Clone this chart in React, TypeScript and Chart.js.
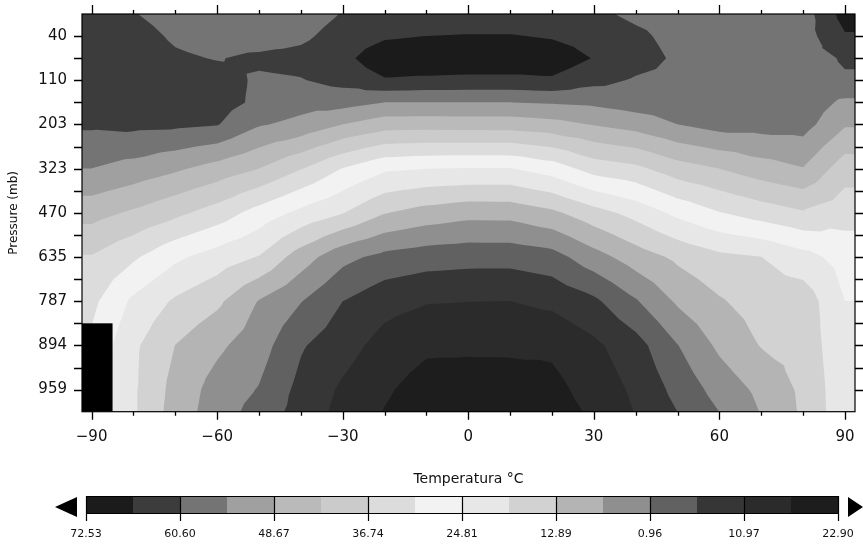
import React, { useEffect, useRef } from 'react';
import { Chart, registerables } from 'chart.js';

Chart.register(...registerables);

// ---------- data ----------
// Latitude columns of the temperature grid (degrees)
const LATITUDES = [-90, -80, -70, -60, -50, -40, -30, -20, -10, 0, 10, 20, 30, 40, 50, 60, 70, 80, 90];
// Vertical position of each grid row, in pressure-axis index units (0 = 40 mb ... 8 = 959 mb)
const LEVEL_ROWS = [-0.5, 0, 0.5, 1, 1.5, 2, 3, 4, 5, 6, 7, 8, 8.5];
// Pressure axis labels (mb)
const PRESSURE_LABELS = ['40', '110', '203', '323', '470', '635', '787', '894', '959'];
// Labelled latitude ticks
const X_TICKS = [-90, -60, -30, 0, 30, 60, 90];

// Temperature (°C), one row per LEVEL_ROWS entry, one column per LATITUDES entry
const TEMP_R00 = [-63.6, -60.9, -58.2, -57.0, -56.4, -57.6, -60.9, -63.0, -63.3, -63.0, -63.0, -62.4, -61.8, -59.4, -58.2, -58.2, -58.2, -57.6, -69.0];
const TEMP_R01 = [-63.6, -63.0, -59.7, -58.2, -57.6, -59.4, -63.0, -65.7, -66.6, -66.9, -66.9, -66.0, -64.2, -61.8, -58.8, -58.5, -58.2, -57.9, -66.0];
const TEMP_R02 = [-63.6, -64.2, -61.5, -60.3, -61.8, -62.4, -64.8, -70.7, -71.0, -70.7, -70.7, -70.1, -66.3, -63.0, -59.7, -58.8, -58.5, -58.2, -61.2];
const TEMP_R03 = [-63.6, -64.2, -63.6, -63.0, -59.7, -60.3, -62.4, -66.0, -65.4, -65.1, -65.1, -65.7, -62.4, -60.0, -59.4, -58.8, -58.5, -58.2, -60.0];
const TEMP_R04 = [-63.0, -63.6, -63.9, -63.0, -59.4, -57.0, -57.0, -54.6, -54.6, -54.6, -54.6, -55.2, -55.8, -57.6, -58.2, -58.5, -58.5, -58.2, -53.4];
const TEMP_R05 = [-61.5, -62.1, -61.8, -60.9, -55.2, -52.9, -48.6, -45.4, -45.1, -45.3, -45.4, -46.6, -49.0, -51.1, -54.6, -57.0, -57.0, -57.0, -49.3];
const TEMP_R06 = [-54.6, -52.4, -49.6, -46.3, -42.7, -37.0, -30.5, -25.7, -24.8, -24.5, -24.5, -27.5, -33.2, -35.3, -40.0, -42.7, -46.0, -48.4, -39.4];
const TEMP_R07 = [-44.9, -41.8, -38.2, -34.1, -28.4, -23.3, -19.1, -13.2, -10.5, -8.9, -9.0, -11.7, -16.5, -20.9, -26.3, -30.5, -33.5, -36.1, -33.2];
const TEMP_R08 = [-36.3, -31.7, -26.0, -22.1, -18.5, -9.9, -2.7, 0.8, 2.3, 2.9, 2.9, 1.4, -4.5, -9.9, -14.1, -17.4, -18.8, -22.7, -27.2];
const TEMP_R09 = [-32.3, -23.6, -18.0, -14.1, -6.6, -1.2, 5.0, 8.9, 10.6, 10.9, 11.0, 9.6, 6.2, -0.4, -7.8, -12.3, -15.6, -15.3, -24.8];
const TEMP_R10 = [-29.6, -20.0, -12.8, -8.1, -3.6, 4.4, 8.6, 13.1, 15.8, 15.8, 15.8, 15.8, 12.2, 7.4, -0.8, -8.1, -13.2, -15.0, -23.6];
const TEMP_R11 = [-29.0, -19.7, -10.8, -4.5, -0.6, 6.8, 11.9, 16.1, 19.6, 20.2, 19.9, 18.7, 14.6, 9.8, 3.2, -3.3, -8.4, -14.1, -23.0];
const TEMP_R12 = [-29.0, -19.7, -10.2, -3.9, 1.4, 7.4, 12.8, 17.2, 20.5, 21.7, 21.4, 19.3, 16.1, 10.7, 5.0, -1.0, -7.2, -13.8, -23.0];
const TEMPERATURE = [TEMP_R00, TEMP_R01, TEMP_R02, TEMP_R03, TEMP_R04, TEMP_R05, TEMP_R06, TEMP_R07, TEMP_R08, TEMP_R09, TEMP_R10, TEMP_R11, TEMP_R12];

// Missing data (below ground) box: latitude range and pressure-index range
const MISSING_LAT = [-92.3, -85];
const MISSING_ROW = [6.5, 8.5];

// Contour levels (°C) and shading of each band between consecutive levels
const CONTOUR_LEVELS = [-72.53, -66.57, -60.60, -54.64, -48.67, -42.71, -36.74, -30.78, -24.81, -18.85, -12.89, -6.92, -0.96, 5.01, 10.97, 16.94, 22.90];
const BAND_COLORS = ['#1b1b1b', '#3c3c3c', '#747474', '#a0a0a0', '#bababa', '#cbcbcb', '#dcdcdc', '#f2f2f2', '#e7e7e7', '#d2d2d2', '#b4b4b4', '#8f8f8f', '#616161', '#363636', '#2b2b2b', '#1d1d1d'];
const BELOW_COLOR = '#000000';
const ABOVE_COLOR = '#000000';
const COLORBAR_LABELS = ['72.53', '60.60', '48.67', '36.74', '24.81', '12.89', '0.96', '10.97', '22.90'];

const FONT = 'DejaVu Sans';

type P = { x: number; y: number; v: number };

function clipAbove(poly: P[], level: number): P[] {
  const out: P[] = [];
  for (let i = 0; i < poly.length; i++) {
    const a = poly[i];
    const b = poly[(i + 1) % poly.length];
    const ina = a.v >= level;
    const inb = b.v >= level;
    if (ina) out.push(a);
    if (ina !== inb) {
      const t = (level - a.v) / (b.v - a.v);
      out.push({ x: a.x + t * (b.x - a.x), y: a.y + t * (b.y - a.y), v: level });
    }
  }
  return out;
}

const contourPlugin = {
  id: 'contourFill',
  beforeDatasetsDraw(chart: any) {
    const { ctx, chartArea: a, scales } = chart;
    const xs = scales.x;
    const ys = scales.y;
    ctx.save();
    ctx.beginPath();
    ctx.rect(a.left, a.top, a.right - a.left, a.bottom - a.top);
    ctx.clip();

    // column pixel positions, with the edge columns carried out to the axis limits
    const colPx = [xs.getPixelForValue(xs.min), ...LATITUDES.map((v) => xs.getPixelForValue(v)), xs.getPixelForValue(xs.max)];
    const rowPx = LEVEL_ROWS.map((v) => ys.getPixelForValue(v));
    const nc = LATITUDES.length;
    const val = (r: number, c: number) => TEMPERATURE[r][Math.min(nc - 1, Math.max(0, c - 1))];

    const tris: P[][] = [];
    for (let r = 0; r < rowPx.length - 1; r++) {
      for (let c = 0; c < colPx.length - 1; c++) {
        const p00 = { x: colPx[c], y: rowPx[r], v: val(r, c) };
        const p10 = { x: colPx[c + 1], y: rowPx[r], v: val(r, c + 1) };
        const p11 = { x: colPx[c + 1], y: rowPx[r + 1], v: val(r + 1, c + 1) };
        const p01 = { x: colPx[c], y: rowPx[r + 1], v: val(r + 1, c) };
        const pc = { x: (p00.x + p10.x) / 2, y: (p00.y + p01.y) / 2, v: (p00.v + p10.v + p11.v + p01.v) / 4 };
        tris.push([pc, p00, p10], [pc, p10, p11], [pc, p11, p01], [pc, p01, p00]);
      }
    }

    ctx.fillStyle = BELOW_COLOR;
    ctx.fillRect(a.left, a.top, a.right - a.left, a.bottom - a.top);
    const layers = [...BAND_COLORS, ABOVE_COLOR];
    for (let k = 0; k < layers.length; k++) {
      const level = CONTOUR_LEVELS[k];
      ctx.beginPath();
      let any = false;
      for (const t of tris) {
        const poly = clipAbove(t, level);
        if (poly.length < 3) continue;
        any = true;
        ctx.moveTo(poly[0].x, poly[0].y);
        for (let i = 1; i < poly.length; i++) ctx.lineTo(poly[i].x, poly[i].y);
        ctx.closePath();
      }
      if (any) {
        ctx.fillStyle = layers[k];
        ctx.fill();
      }
    }

    // missing data
    const mx0 = xs.getPixelForValue(MISSING_LAT[0]);
    const mx1 = xs.getPixelForValue(MISSING_LAT[1]);
    const my0 = ys.getPixelForValue(MISSING_ROW[0]);
    const my1 = ys.getPixelForValue(MISSING_ROW[1]);
    ctx.fillStyle = '#000000';
    ctx.fillRect(Math.min(mx0, mx1), Math.min(my0, my1), Math.abs(mx1 - mx0), Math.abs(my1 - my0));
    ctx.restore();
  },
  afterDraw(chart: any) {
    const { ctx, chartArea: a, scales } = chart;
    const xs = scales.x;
    const ys = scales.y;
    ctx.save();
    ctx.strokeStyle = '#000';
    ctx.lineWidth = 1.2;
    ctx.strokeRect(a.left, a.top, a.right - a.left, a.bottom - a.top);

    ctx.beginPath();
    for (const v of LATITUDES) {
      const px = Math.round(xs.getPixelForValue(v)) + 0.5;
      const major = X_TICKS.includes(v);
      ctx.moveTo(px, a.bottom);
      ctx.lineTo(px, a.bottom + (major ? 8 : 4));
      ctx.moveTo(px, a.top);
      ctx.lineTo(px, a.top - (major ? 9 : 4));
    }
    for (let i = 0; i <= (PRESSURE_LABELS.length - 1) * 2; i++) {
      const py = Math.round(ys.getPixelForValue(i / 2)) + 0.5;
      ctx.moveTo(a.left, py);
      ctx.lineTo(a.left - 8, py);
      ctx.moveTo(a.right, py);
      ctx.lineTo(a.right + 8, py);
    }
    ctx.lineWidth = 1.3;
    ctx.stroke();

    // colour bar
    const cbL = 86, cbR = 838, cbT = 496, cbH = 17;
    const bw = (cbR - cbL) / BAND_COLORS.length;
    BAND_COLORS.forEach((c, i) => {
      ctx.fillStyle = c;
      ctx.fillRect(cbL + i * bw, cbT, bw + 0.5, cbH);
    });
    ctx.lineWidth = 1;
    ctx.strokeStyle = '#000';
    ctx.strokeRect(cbL + 0.5, cbT + 0.5, cbR - cbL, cbH);
    ctx.fillStyle = BELOW_COLOR;
    ctx.beginPath();
    ctx.moveTo(55, 507);
    ctx.lineTo(77, 497);
    ctx.lineTo(77, 517);
    ctx.closePath();
    ctx.fill();
    ctx.fillStyle = ABOVE_COLOR;
    ctx.beginPath();
    ctx.moveTo(863, 507);
    ctx.lineTo(848, 497);
    ctx.lineTo(848, 517);
    ctx.closePath();
    ctx.fill();

    ctx.beginPath();
    const step = (BAND_COLORS.length) / (COLORBAR_LABELS.length - 1);
    COLORBAR_LABELS.forEach((_, i) => {
      const px = Math.round(cbL + i * step * bw) + 0.5;
      ctx.moveTo(px, cbT);
      ctx.lineTo(px, cbT + cbH + 8);
    });
    ctx.lineWidth = 1.2;
    ctx.stroke();
    ctx.fillStyle = '#111';
    ctx.font = `11px "${FONT}"`;
    ctx.textAlign = 'center';
    ctx.textBaseline = 'middle';
    COLORBAR_LABELS.forEach((t, i) => {
      ctx.fillText(t, cbL + i * step * bw, 534);
    });
    ctx.restore();
  },
};

export default function App() {
  const ref = useRef<HTMLCanvasElement | null>(null);
  useEffect(() => {
    if (!ref.current) return;
    const chart = new Chart(ref.current, {
      type: 'scatter',
      data: { datasets: [{ data: [], pointRadius: 0 }] },
      options: {
        responsive: false,
        animation: false,
        devicePixelRatio: 1,
        layout: { padding: { top: 14, right: 8, left: 0, bottom: 0 } },
        plugins: { legend: { display: false }, tooltip: { enabled: false } },
        scales: {
          x: {
            type: 'linear',
            min: -92.3,
            max: 92.4,
            position: 'bottom',
            grid: { display: false, drawTicks: false },
            border: { display: false },
            afterBuildTicks: (s: any) => {
              s.ticks = X_TICKS.map((v) => ({ value: v }));
            },
            afterFit: (s: any) => {
              s.height = 132.3;
              s.paddingLeft = 0;
              s.paddingRight = 0;
              s.paddingTop = 0;
              s.paddingBottom = 0;
            },
            ticks: {
              padding: 16,
              autoSkip: false,
              maxRotation: 0,
              color: '#111',
              font: { family: FONT, size: 15 },
              callback: (v: any) => (Number(v) < 0 ? '\u2212' + Math.abs(Number(v)) : String(v)),
            },
            title: {
              display: true,
              text: 'Temperatura °C',
              color: '#111',
              font: { family: FONT, size: 14 },
              padding: { top: 0, bottom: 56 },
            },
          },
          y: {
            type: 'linear',
            min: -0.5,
            max: 8.5,
            reverse: true,
            grid: { display: false, drawTicks: false },
            border: { display: false },
            afterBuildTicks: (s: any) => {
              s.ticks = PRESSURE_LABELS.map((_, i) => ({ value: i }));
            },
            afterFit: (s: any) => {
              s.width = 82;
              s.paddingLeft = 0;
              s.paddingRight = 0;
              s.paddingTop = 0;
              s.paddingBottom = 0;
            },
            ticks: {
              padding: 15,
              autoSkip: false,
              color: '#111',
              font: { family: FONT, size: 15 },
              callback: (v: any) => PRESSURE_LABELS[Number(v)] ?? '',
            },
            title: {
              display: true,
              text: 'Pressure (mb)',
              color: '#111',
              font: { family: FONT, size: 12 },
              padding: { top: 7, bottom: 0 },
            },
          },
        },
      },
      plugins: [contourPlugin],
    } as any);
    return () => chart.destroy();
  }, []);
  return (
    <div style={{ position: 'fixed', left: 0, top: 0, width: 863, height: 544, background: '#fff' }}>
      <canvas ref={ref} width={863} height={544} style={{ display: 'block' }} />
    </div>
  );
}
